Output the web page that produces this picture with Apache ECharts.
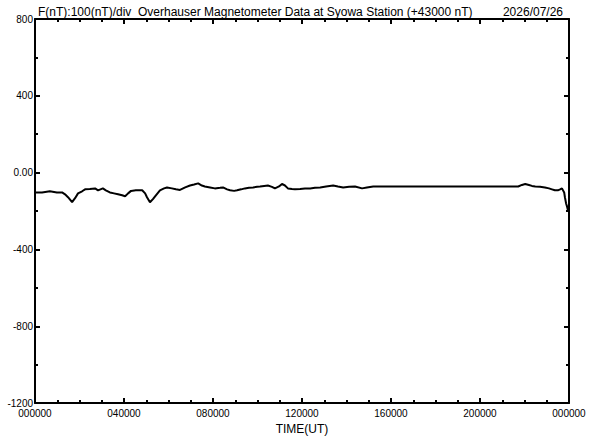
<!DOCTYPE html>
<html>
<head>
<meta charset="utf-8">
<script src="https://cdn.jsdelivr.net/npm/echarts@6/dist/echarts.min.js"></script>
<style>html,body{margin:0;padding:0;background:#fff}#c{width:592px;height:440px}</style>
</head>
<body>
<div id="c"></div>
<script>
// Time in minutes since 00:00 UT
const minutes = [0,19,40,59,73,81,89,100,108,116,127,135,148,162,170,183,191,202,213,224,235,243,251,259,272,289,297,302,310,318,326,337,348,356,369,380,391,405,418,429,440,450,458,472,485,499,507,518,526,537,545,556,566,577,588,599,607,618,628,639,647,658,666,674,682,693,701,715,728,742,755,769,785,804,817,831,847,863,882,895,912,930,957,984,1011,1038,1065,1092,1119,1160,1200,1241,1281,1303,1313,1322,1332,1340,1349,1362,1375,1386,1394,1402,1410,1416,1421,1427,1429,1432,1435,1437,1440];
// F - 43000 nT
const fValues = [-103,-103,-97,-103,-103,-113,-128,-154,-133,-108,-97,-87,-85,-82,-92,-82,-92,-103,-108,-113,-118,-123,-108,-95,-92,-92,-108,-128,-154,-138,-118,-92,-82,-77,-82,-87,-90,-77,-67,-62,-56,-67,-72,-77,-82,-79,-77,-87,-92,-95,-92,-87,-82,-79,-77,-74,-72,-69,-67,-74,-82,-72,-59,-67,-82,-85,-87,-85,-82,-82,-79,-77,-72,-67,-72,-77,-74,-72,-82,-77,-72,-72,-72,-72,-72,-72,-72,-72,-72,-72,-72,-72,-72,-72,-64,-59,-64,-69,-72,-74,-77,-82,-87,-92,-92,-87,-82,-103,-128,-159,-179,-195,-169];
const xTickLabels = ['000000','040000','080000','120000','160000','200000','000000'];
const yTickLabels = {'800':'800','400':'400','0':'0.00','-400':'-400','-800':'-800','-1200':'-1200'};
const titleText = 'F(nT):100(nT)/div  Overhauser Magnetometer Data at Syowa Station (+43000 nT)';
const dateText = '2026/07/26';
const xName = 'TIME(UT)';

const FONT = 'Liberation Sans';
const chart = echarts.init(document.getElementById('c'), null, {renderer: 'svg'});
const axisLine = {show: true, onZero: false, lineStyle: {color: '#000', width: 2}};
const baseX = {
  type: 'value', min: 0, max: 1440, interval: 240,
  axisLine: axisLine,
  axisTick: {show: true, inside: true, length: 5, lineStyle: {color: '#000', width: 2}},
  minorTick: {show: true, splitNumber: 4, length: 3, lineStyle: {color: '#000', width: 2}},
  splitLine: {show: false}
};
const baseY = {
  type: 'value', min: -1200, max: 800, interval: 400,
  axisLine: axisLine,
  axisTick: {show: true, inside: true, length: 5, lineStyle: {color: '#000', width: 2}},
  minorTick: {show: true, splitNumber: 2, length: 3, lineStyle: {color: '#000', width: 2}},
  splitLine: {show: false}
};
chart.setOption({
  animation: false,
  backgroundColor: '#fff',
  grid: {left: 35, right: 23, top: 19, bottom: 31},
  title: [
    {text: titleText, left: 33, top: 1, textStyle: {fontFamily: FONT, fontSize: 12, fontWeight: 'normal', color: '#000'}},
    {text: dateText, right: 24, top: 1, textStyle: {fontFamily: FONT, fontSize: 12, fontWeight: 'normal', color: '#000'}}
  ],
  xAxis: [
    Object.assign({}, baseX, {
      position: 'bottom',
      name: xName, nameLocation: 'middle', nameGap: 18,
      nameTextStyle: {fontFamily: FONT, fontSize: 12, color: '#000'},
      axisLabel: {show: true, margin: 5, fontFamily: FONT, fontSize: 10, color: '#000',
        formatter: v => xTickLabels[Math.round(v / 240)]}
    }),
    Object.assign({}, baseX, {position: 'top', axisLabel: {show: false}})
  ],
  yAxis: [
    Object.assign({}, baseY, {
      position: 'left',
      axisLabel: {show: true, margin: 2, fontFamily: FONT, fontSize: 10, color: '#000',
        formatter: v => yTickLabels[String(v)]}
    }),
    Object.assign({}, baseY, {position: 'right', axisLabel: {show: false}})
  ],
  series: [{
    type: 'line',
    data: minutes.map((m, i) => [m, fValues[i]]),
    showSymbol: false,
    lineStyle: {color: '#000', width: 2},
    clip: true
  }]
});
</script>
</body>
</html>
